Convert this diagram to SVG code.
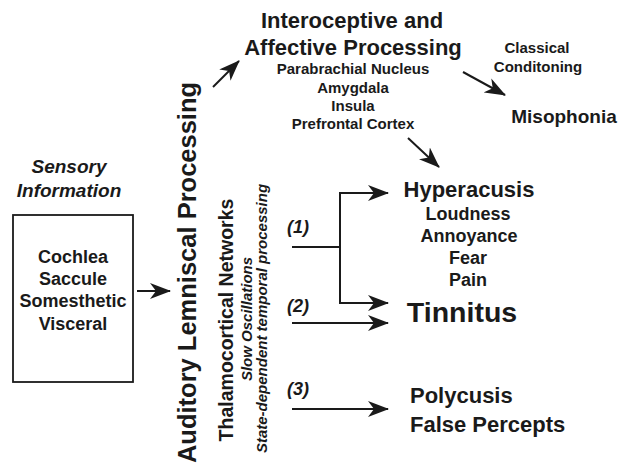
<svg xmlns="http://www.w3.org/2000/svg" width="621" height="467" viewBox="0 0 621 467">
<style>
text{font-family:"Liberation Sans",Arial,sans-serif;fill:#1a1a1a}
.b{font-weight:bold}
.c{text-anchor:middle}
.i{font-style:italic}
.ln{stroke:#1a1a1a;stroke-width:2;fill:none}
</style>
<defs>
<marker id="ah" markerUnits="userSpaceOnUse" markerWidth="22" markerHeight="18" viewBox="0 0 22 18" refX="20" refY="9" orient="auto">
<path d="M0,1 L21,9 L0,17 L6,9 z" fill="#1a1a1a"/>
</marker>
</defs>
<rect width="621" height="467" fill="#fff"/>
<g id="sensory-label">
<text class="b i c" x="69" y="173" font-size="19">Sensory</text>
<text class="b i c" x="69" y="197" font-size="19">Information</text>
</g>
<g id="sensory-box">
<rect x="13" y="215" width="120" height="167" fill="none" stroke="#1a1a1a" stroke-width="1.8"/>
<text class="b c" x="73" y="263" font-size="18">Cochlea</text>
<text class="b c" x="73" y="285" font-size="18">Saccule</text>
<text class="b c" x="73" y="307" font-size="18">Somesthetic</text>
<text class="b c" x="73" y="330" font-size="18">Visceral</text>
</g>
<g id="lemniscal">
<text class="b c" transform="translate(196,272.5) rotate(-90)" font-size="25.5">Auditory Lemniscal Processing</text>
<text class="b c" transform="translate(233,320) rotate(-90)" font-size="19.5">Thalamocortical Networks</text>
<text class="b i c" transform="translate(252,319) rotate(-90)" font-size="15">Slow Oscillations</text>
<text class="b i c" transform="translate(267,318.5) rotate(-90)" font-size="15">State-dependent temporal processing</text>
</g>
<g id="interoceptive">
<text class="b c" x="352" y="28" font-size="22">Interoceptive and</text>
<text class="b c" x="353" y="55" font-size="22">Affective Processing</text>
<text class="b c" x="353" y="74" font-size="15">Parabrachial Nucleus</text>
<text class="b c" x="353" y="93" font-size="15">Amygdala</text>
<text class="b c" x="353" y="111" font-size="15">Insula</text>
<text class="b c" x="353" y="129" font-size="15">Prefrontal Cortex</text>
</g>
<g id="conditioning">
<text class="b c" x="537" y="53" font-size="15">Classical</text>
<text class="b c" x="538" y="72" font-size="15">Conditoning</text>
</g>
<g id="misophonia">
<text class="b c" x="564" y="123" font-size="19">Misophonia</text>
</g>
<g id="hyperacusis">
<text class="b c" x="469" y="197" font-size="22">Hyperacusis</text>
<text class="b c" x="468" y="220" font-size="18">Loudness</text>
<text class="b c" x="469" y="242" font-size="18">Annoyance</text>
<text class="b c" x="468" y="264" font-size="18">Fear</text>
<text class="b c" x="468" y="286" font-size="18">Pain</text>
</g>
<g id="tinnitus">
<text class="b c" x="462" y="322" font-size="28.5">Tinnitus</text>
</g>
<g id="polycusis">
<text class="b" x="410" y="403" font-size="22">Polycusis</text>
<text class="b" x="410" y="432" font-size="22">False Percepts</text>
</g>
<g id="path-labels">
<text class="b i" x="287" y="233" font-size="18">(1)</text>
<text class="b i" x="287" y="312" font-size="18">(2)</text>
<text class="b i" x="287" y="395" font-size="18">(3)</text>
</g>
<g id="connectors">
<line class="ln" x1="137" y1="291" x2="170" y2="291" marker-end="url(#ah)"/>
<line class="ln" x1="213" y1="87" x2="239" y2="61" marker-end="url(#ah)"/>
<line class="ln" x1="463" y1="72" x2="505" y2="95" marker-end="url(#ah)"/>
<line class="ln" x1="408" y1="138" x2="439" y2="167" marker-end="url(#ah)"/>
<line class="ln" x1="292" y1="247" x2="340" y2="247"/>
<path class="ln" d="M340,248 V193 H388" marker-end="url(#ah)"/>
<path class="ln" d="M340,246 V303 H388" marker-end="url(#ah)"/>
<line class="ln" x1="292" y1="323" x2="388" y2="323" marker-end="url(#ah)"/>
<line class="ln" x1="292" y1="409" x2="388" y2="409" marker-end="url(#ah)"/>
</g>
</svg>
